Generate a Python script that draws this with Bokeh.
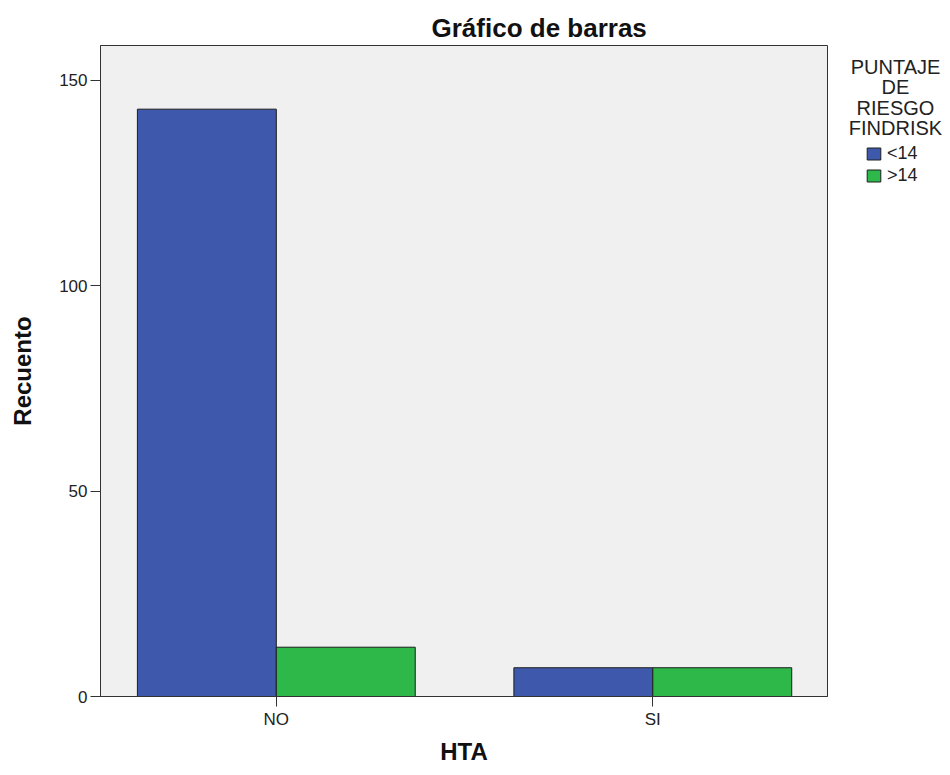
from bokeh.plotting import figure
from bokeh.layouts import row
from bokeh.models import (ColumnDataSource, Range1d, FixedTicker, Label, Legend, LegendItem, Title)
from bokeh.transform import dodge
from bokeh.embed import file_html
from bokeh.resources import INLINE

# ---- data ----
categories = ["NO", "SI"]
lt14 = [143, 7]
gt14 = [12, 7]
series_names = ["<14", ">14"]
legend_title_lines = ["PUNTAJE", "DE", "RIESGO", "FINDRISK"]
y_ticks = [0, 50, 100, 150]

FONT = "Liberation Sans"
BLUE = "#3E58AB"
GREEN = "#2EB84A"
EDGE = "#1E1E1E"
H = 767
FB = 705  # frame bottom (shared by both plots in the row)

idx = list(range(len(categories)))
src = ColumnDataSource(dict(idx=idx, cat=categories, lt14=lt14, gt14=gt14))

p = figure(width=842, height=H, output_backend="svg", toolbar_location=None,
           x_range=Range1d(-0.467, 1.464), y_range=Range1d(0, 158.5),
           min_border_left=100, min_border_right=15, min_border_top=45, min_border_bottom=H - FB)
p.background_fill_color = "#F0F0F0"
p.border_fill_color = "white"
p.outline_line_color = "#333333"
p.outline_line_width = 1
p.xgrid.visible = False
p.ygrid.visible = False

bw = 0.369
r1 = p.vbar(x=dodge("idx", -bw / 2, range=p.x_range), top="lt14", width=bw, source=src,
            fill_color=BLUE, line_color=EDGE, line_width=1)
r2 = p.vbar(x=dodge("idx", bw / 2, range=p.x_range), top="gt14", width=bw, source=src,
            fill_color=GREEN, line_color=EDGE, line_width=1)

# axes
p.xaxis.ticker = FixedTicker(ticks=idx)
p.xaxis.major_label_overrides = {i: c for i, c in zip(idx, categories)}
p.yaxis.ticker = FixedTicker(ticks=y_ticks)
for ax in (p.xaxis[0], p.yaxis[0]):
    ax.axis_line_color = "#333333"
    ax.major_tick_line_color = "#333333"
    ax.minor_tick_line_color = None
    ax.major_tick_in = 0
    ax.major_tick_out = 10
    ax.major_label_text_font = FONT
    ax.major_label_text_font_size = "17px"
    ax.major_label_text_color = "#222222"
    ax.axis_label_text_font = FONT
    ax.axis_label_text_font_size = "24px"
    ax.axis_label_text_font_style = "bold"
    ax.axis_label_text_color = "#111111"
p.yaxis.major_label_standoff = 3
p.xaxis.major_label_standoff = 3
p.yaxis.axis_label = "Recuento"
p.xaxis.axis_label = "HTA"
p.yaxis.axis_label_standoff = 20
p.xaxis.axis_label_standoff = 6

p.add_layout(Title(text="Gráfico de barras", align="left", offset=331, standoff=6,
                   text_font=FONT, text_font_size="26px", text_font_style="bold",
                   text_color="#111111"), "above")

# ---- legend panel ----
q = figure(width=100, height=H, output_backend="svg", toolbar_location=None,
           x_range=Range1d(0, 1), y_range=Range1d(0, 1),
           x_axis_location=None, y_axis_location=None,
           min_border_left=0, min_border_right=0, min_border_top=45, min_border_bottom=H - FB)
q.outline_line_color = None
q.background_fill_color = "white"
q.xgrid.visible = False
q.ygrid.visible = False

for i, line in enumerate(legend_title_lines):
    q.add_layout(Label(x=53, y=FB - 75 - 20.5 * i, x_units="screen", y_units="screen", text=line,
                       text_font=FONT, text_font_size="20px", text_align="center",
                       text_baseline="alphabetic", text_color="#222222"))

d1 = q.vbar(x="idx", top="lt14", width=0.5, source=src, fill_color=BLUE, line_color=EDGE,
            line_width=1, visible=False)
d2 = q.vbar(x="idx", top="gt14", width=0.5, source=src, fill_color=GREEN, line_color=EDGE,
            line_width=1, visible=False)

legend = Legend(items=[LegendItem(label=series_names[0], renderers=[d1]),
                       LegendItem(label=series_names[1], renderers=[d2])],
                location=(23, FB - 195), orientation="vertical",
                glyph_width=17, glyph_height=15, label_height=21, label_width=20,
                spacing=1, padding=0, margin=0, label_standoff=5,
                label_text_font=FONT, label_text_font_size="18px", label_text_color="#222222",
                border_line_alpha=0, background_fill_alpha=0, inactive_fill_alpha=0)
q.add_layout(legend, "center")

layout = row(p, q, spacing=0)
open("out.html", "w").write(file_html(layout, INLINE))
